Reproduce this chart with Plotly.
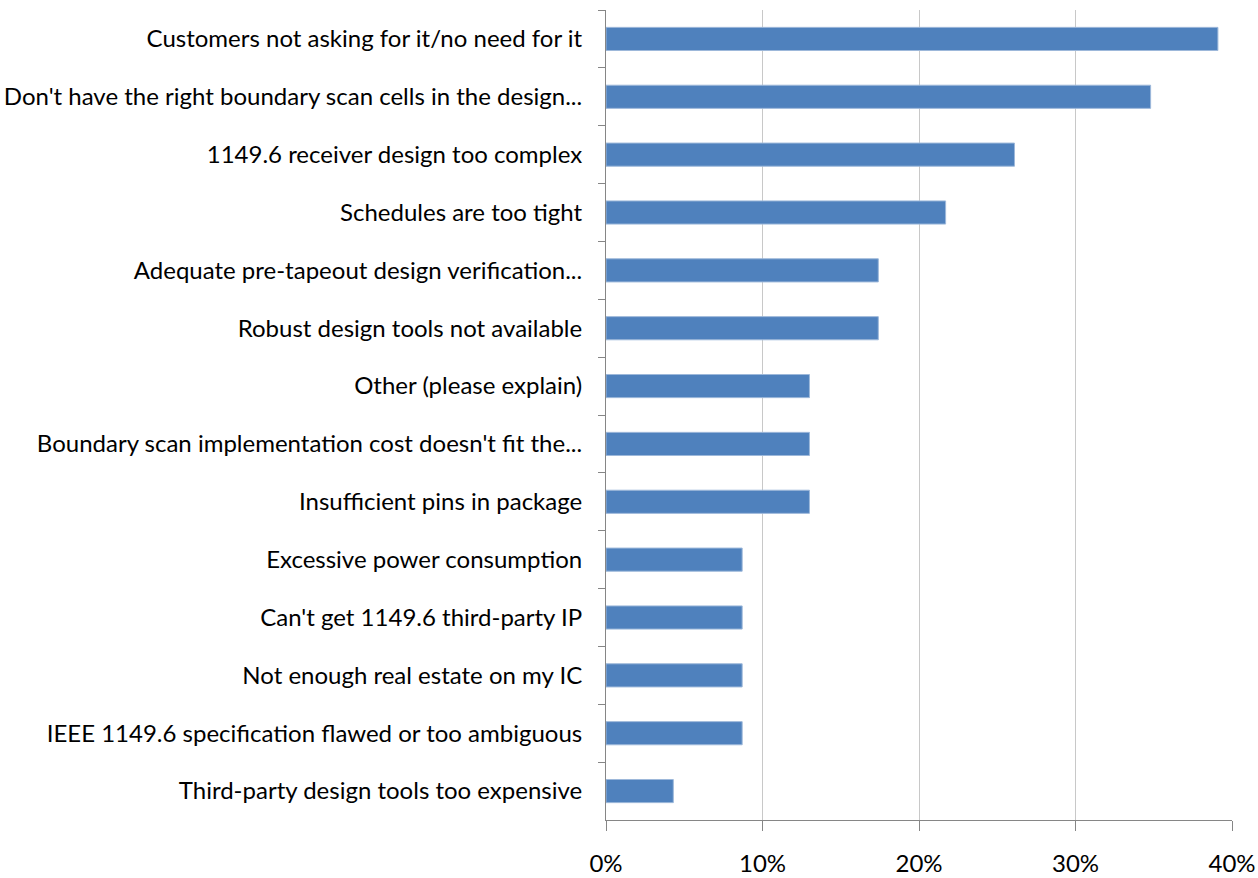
import plotly.graph_objects as go

# Survey responses: reasons for not adopting IEEE 1149.6 (share of respondents, %)
reasons = [
    "Customers not asking for it/no need for it",
    "Don't have the right boundary scan cells in the design...",
    "1149.6 receiver design too complex",
    "Schedules are too tight",
    "Adequate pre-tapeout design verification...",
    "Robust design tools not available",
    "Other (please explain)",
    "Boundary scan implementation cost doesn't fit the...",
    "Insufficient pins in package",
    "Excessive power consumption",
    "Can't get 1149.6 third-party IP",
    "Not enough real estate on my IC",
    "IEEE 1149.6 specification flawed or too ambiguous",
    "Third-party design tools too expensive",
]
share_pct = [39.1, 34.8, 26.1, 21.7, 17.4, 17.4, 13.0, 13.0, 13.0, 8.7, 8.7, 8.7, 8.7, 4.3]
x_ticks = [0, 10, 20, 30, 40]
x_tick_text = ["0%", "10%", "20%", "30%", "40%"]

FONT = "Lato, 'Open Sans', sans-serif"

fig = go.Figure(
    go.Bar(
        x=share_pct,
        y=reasons,
        orientation="h",
        width=0.4,
        marker=dict(color="#4F81BD", line=dict(color="#9DB8DA", width=1)),
        hoverinfo="x+y",
    )
)

fig.update_layout(
    width=1258,
    height=878,
    margin=dict(l=606, r=26, t=10, b=58, autoexpand=False),
    plot_bgcolor="white",
    paper_bgcolor="white",
    showlegend=False,
    font=dict(family=FONT, size=24, color="#000000"),
    bargap=0.6,
)

fig.update_xaxes(
    range=[0, 40],
    tickvals=x_ticks,
    ticktext=x_tick_text,
    showgrid=True,
    gridcolor="#C8C8C8",
    gridwidth=1,
    showline=True,
    linecolor="#868686",
    linewidth=1,
    ticks="outside",
    ticklen=10,
    tickcolor="#868686",
    ticklabelstandoff=12,
    tickfont=dict(family=FONT, size=24, color="#000000"),
    zeroline=False,
    fixedrange=True,
)

fig.update_yaxes(
    type="category",
    categoryorder="array",
    categoryarray=reasons,
    autorange="reversed",
    tickson="boundaries",
    showgrid=False,
    showline=True,
    linecolor="#868686",
    linewidth=1,
    ticks="outside",
    ticklen=7,
    tickcolor="#868686",
    ticklabelstandoff=18,
    tickfont=dict(family=FONT, size=24, color="#000000"),
    fixedrange=True,
)

fig.write_html("out.html")
